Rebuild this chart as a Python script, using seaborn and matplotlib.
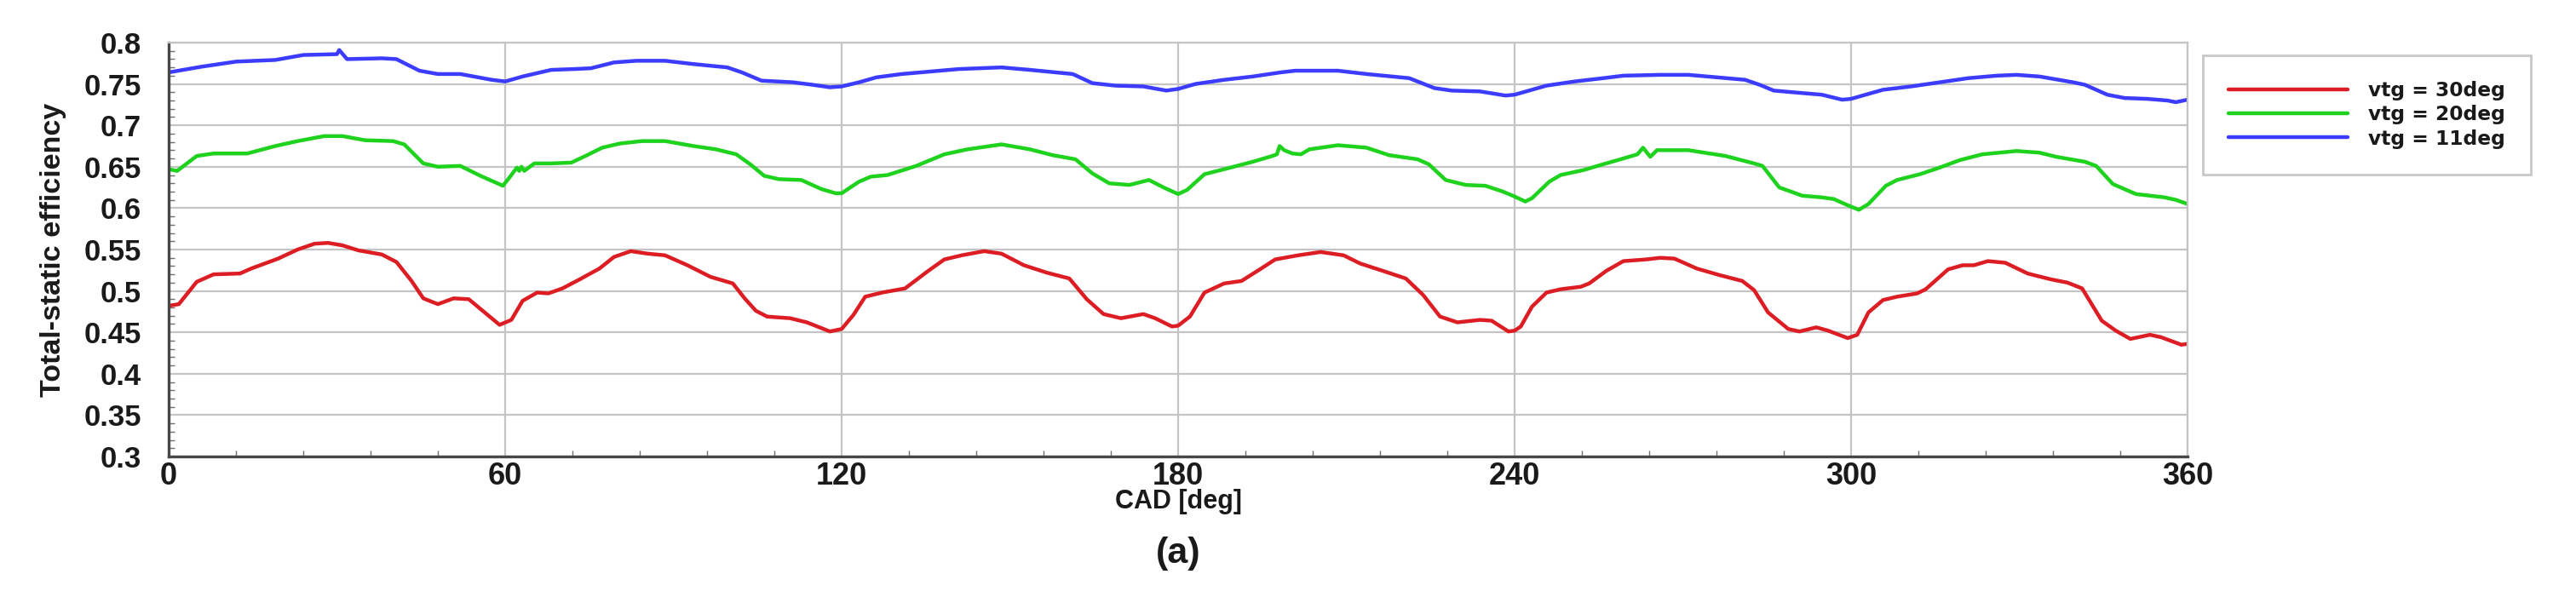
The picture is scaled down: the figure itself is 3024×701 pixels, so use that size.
import matplotlib
matplotlib.use("Agg")
import matplotlib.pyplot as plt
from matplotlib.ticker import MultipleLocator, FuncFormatter
import pandas as pd
import seaborn as sns

# CAD [deg] / total-static efficiency
cad_30 = [0, 1.8, 5, 8, 12.7, 14.7, 19.5, 23, 26, 28.4, 31, 33.8, 38, 40.6, 43.3,
          45.4, 48, 50.8, 53.5, 59, 61.1, 63.1, 65.7, 67.7, 70.2, 73.3, 76.8, 79.4,
          82.4, 85.4, 88.5, 92.5, 96.6, 100.6, 102.7, 104.7, 106.7, 110.8, 113.8,
          117.9, 120, 122.1, 124.2, 127.2, 131.3, 135.4, 138.3, 141.4, 145.4, 148.5,
          152.5, 156.6, 160.6, 163.7, 166.7, 169.8, 173.8, 175.9, 178.9, 180, 182.1,
          184.7, 188.2, 191.3, 194.8, 197.3, 201.4, 205.4, 209.5, 212.5, 216.6,
          220.6, 223.7, 226.7, 229.8, 233.8, 235.9, 238.9, 240, 241.1, 243.1, 245.7,
          248.2, 251.8, 253.3, 256.3, 259.4, 263.4, 266, 268.5, 272.5, 276.6, 280.6,
          282.7, 285.2, 288.8, 290.8, 293.8, 295.9, 299.4, 301.1, 303.1, 305.7,
          308.2, 311.8, 313.3, 317.3, 319.9, 321.9, 324.4, 327.5, 331.5, 335.6,
          338.6, 341.2, 344.7, 347.2, 349.8, 353.3, 355.3, 358.9, 360]
eff_30 = [0.482, 0.484, 0.511, 0.520, 0.521, 0.527, 0.539, 0.550, 0.557, 0.558,
          0.555, 0.549, 0.544, 0.535, 0.512, 0.491, 0.484, 0.491, 0.490, 0.459,
          0.465, 0.488, 0.498, 0.497, 0.503, 0.514, 0.527, 0.541, 0.548, 0.545,
          0.543, 0.531, 0.517, 0.509, 0.491, 0.476, 0.469, 0.467, 0.462, 0.451,
          0.454, 0.471, 0.493, 0.498, 0.503, 0.524, 0.538, 0.543, 0.548, 0.545,
          0.531, 0.522, 0.515, 0.490, 0.472, 0.467, 0.472, 0.467, 0.457, 0.458,
          0.469, 0.498, 0.509, 0.512, 0.527, 0.538, 0.543, 0.547, 0.543, 0.533,
          0.524, 0.515, 0.495, 0.469, 0.462, 0.465, 0.464, 0.451, 0.452, 0.457,
          0.481, 0.498, 0.502, 0.505, 0.509, 0.524, 0.536, 0.538, 0.540, 0.539,
          0.527, 0.519, 0.512, 0.501, 0.474, 0.454, 0.451, 0.456, 0.452, 0.443,
          0.447, 0.474, 0.489, 0.493, 0.497, 0.502, 0.526, 0.531, 0.531, 0.536,
          0.534, 0.521, 0.514, 0.510, 0.503, 0.464, 0.452, 0.442, 0.447, 0.444,
          0.435, 0.436]

cad_20 = [0, 1.5, 5, 8, 14, 19, 23, 27.7, 31, 35, 40, 42, 45.4, 48, 52, 55.6, 59.6,
          61.1, 62.1, 62.5, 62.9, 63.4, 65.2, 68.2, 71.8, 74.3, 77.3, 80.4, 84.4,
          88.5, 93.6, 97.6, 101.2, 103.7, 106.2, 108.8, 112.8, 116.4, 118.9, 120,
          123.1, 125.2, 128.2, 133.3, 138.3, 142.4, 148.5, 153.6, 157.6, 161.7,
          164.7, 167.7, 171.3, 174.8, 177.4, 180, 181.6, 184.7, 188.2, 193.3, 196.8,
          197.6, 198.1, 198.9, 200.4, 201.9, 203.4, 208.5, 213.6, 217.6, 222.7,
          224.7, 227.7, 231.3, 234.8, 237.9, 240, 241.9, 243.1, 246.2, 248.2, 252.3,
          255.8, 259.4, 261.9, 262.9, 264.2, 265.4, 271, 277.6, 282.7, 284.2, 287.2,
          291.3, 294.8, 296.9, 299.9, 301.4, 303.1, 306.2, 308.2, 312.3, 315.8,
          319.4, 323.4, 329.5, 333.6, 336.6, 341.7, 343.7, 346.7, 350.8, 355.9,
          357.9, 360]
eff_20 = [0.647, 0.645, 0.663, 0.666, 0.666, 0.675, 0.681, 0.687, 0.687, 0.682,
          0.681, 0.677, 0.654, 0.650, 0.651, 0.639, 0.627, 0.640, 0.649, 0.645,
          0.650, 0.645, 0.654, 0.654, 0.655, 0.663, 0.673, 0.678, 0.681, 0.681,
          0.675, 0.671, 0.665, 0.653, 0.639, 0.635, 0.634, 0.623, 0.618, 0.618,
          0.632, 0.638, 0.640, 0.651, 0.665, 0.671, 0.677, 0.671, 0.664, 0.659,
          0.642, 0.630, 0.628, 0.634, 0.625, 0.617, 0.622, 0.641, 0.647, 0.656,
          0.663, 0.665, 0.675, 0.670, 0.666, 0.665, 0.671, 0.676, 0.673, 0.664,
          0.659, 0.653, 0.634, 0.628, 0.627, 0.620, 0.614, 0.608, 0.612, 0.632,
          0.640, 0.646, 0.653, 0.660, 0.665, 0.673, 0.662, 0.670, 0.670, 0.663,
          0.654, 0.651, 0.625, 0.615, 0.613, 0.611, 0.602, 0.598, 0.605, 0.627,
          0.634, 0.641, 0.649, 0.658, 0.665, 0.669, 0.667, 0.662, 0.656, 0.651,
          0.629, 0.617, 0.613, 0.610, 0.605]

cad_11 = [0, 6, 12, 19, 24, 30, 30.4, 31.8, 38, 40.6, 44.7, 48, 52, 57.6, 60, 63.1,
          68.2, 72.3, 75.3, 79.4, 83.4, 88.5, 93.6, 99.6, 102.2, 105.7, 111.3,
          114.8, 117.9, 120, 123.1, 126.2, 130.7, 135.8, 140.9, 148.5, 153.6, 161.2,
          164.7, 168.8, 173.8, 177.9, 180, 183.1, 188.2, 193.3, 198.3, 200.9, 208.5,
          213.6, 221.2, 225.7, 228.8, 233.8, 238.4, 240, 243.1, 245.7, 250.7, 255.8,
          259.4, 265.9, 271, 276.1, 281.1, 283.7, 286.2, 291.3, 294.8, 298.4, 300,
          303.1, 305.7, 310.7, 315.8, 320.9, 326, 329.5, 333.6, 339.6, 341.7, 345.7,
          348.8, 352.8, 356.4, 357.9, 360]
eff_11 = [0.764, 0.771, 0.777, 0.779, 0.785, 0.786, 0.791, 0.780, 0.781, 0.780,
          0.766, 0.762, 0.762, 0.755, 0.753, 0.759, 0.767, 0.768, 0.769, 0.776,
          0.778, 0.778, 0.774, 0.770, 0.764, 0.754, 0.752, 0.749, 0.746, 0.747,
          0.752, 0.758, 0.762, 0.765, 0.768, 0.770, 0.767, 0.762, 0.751, 0.748,
          0.747, 0.742, 0.744, 0.750, 0.755, 0.759, 0.764, 0.766, 0.766, 0.762,
          0.757, 0.745, 0.742, 0.741, 0.736, 0.737, 0.743, 0.748, 0.753, 0.757,
          0.760, 0.761, 0.761, 0.758, 0.755, 0.749, 0.742, 0.739, 0.737, 0.731,
          0.732, 0.738, 0.743, 0.747, 0.752, 0.757, 0.760, 0.761, 0.759, 0.752,
          0.749, 0.737, 0.733, 0.732, 0.730, 0.728, 0.731]

case_labels = ["vtg = 30deg", "vtg = 20deg", "vtg = 11deg"]
case_colors = ["#dc1e24", "#1ed21e", "#3c3cff"]

frames = []
for cad, eff, lab in zip([cad_30, cad_20, cad_11], [eff_30, eff_20, eff_11], case_labels):
    frames.append(pd.DataFrame({"CAD": cad, "eff": eff, "case": lab}))
df = pd.concat(frames, ignore_index=True)

sns.set_theme(style="white")
# Arial-like face for axis texts, the wider DejaVu face for the legend
plt.rcParams["font.family"] = ["Liberation Sans", "DejaVu Sans"]
wide = ["DejaVu Sans"]
txt = "#1a1a1a"

fig = plt.figure(figsize=(30.24, 7.01), dpi=100)
ax = fig.add_axes([0.0655, 0.2354, 0.7837, 0.6933])

sns.lineplot(data=df, x="CAD", y="eff", hue="case", hue_order=case_labels,
             palette=case_colors, linewidth=3.2, estimator=None, sort=False, ax=ax)

ax.set_xlim(0, 360)
ax.set_ylim(0.3, 0.8)
ax.xaxis.set_major_locator(MultipleLocator(60))
ax.xaxis.set_minor_locator(MultipleLocator(12))
ax.yaxis.set_major_locator(MultipleLocator(0.05))
ax.yaxis.set_minor_locator(MultipleLocator(0.01))
ax.yaxis.set_major_formatter(FuncFormatter(lambda v, p: f"{round(v, 2):g}"))

ax.grid(True, which="major", color="#c4c4c4", linewidth=1.6)
for side in ["left", "bottom"]:
    ax.spines[side].set_color("#474747")
    ax.spines[side].set_linewidth(2.4)
for side in ["top", "right"]:
    ax.spines[side].set_color("#c4c4c4")
    ax.spines[side].set_linewidth(1.6)

ax.tick_params(which="major", direction="in", length=9, width=1.8, color="#474747",
               top=False, right=False)
ax.tick_params(which="minor", direction="in", length=5, width=1.0, color="#707070",
               top=False, right=False, bottom=True, left=True)
ax.tick_params(axis="y", which="major", pad=23)
ax.tick_params(axis="x", which="major", pad=4)

for t in ax.get_yticklabels():
    t.set_fontsize(25)
    t.set_fontweight("bold")
    t.set_color(txt)
for t in ax.get_xticklabels():
    t.set_fontsize(26)
    t.set_fontweight("bold")
    t.set_color(txt)

ax.set_xlabel("CAD [deg]", fontsize=22, fontweight="bold", color=txt)
ax.xaxis.set_label_coords(0.5, -0.078)
ax.set_ylabel("Total-static efficiency", fontsize=24.5, fontweight="bold", color=txt)
ax.yaxis.set_label_coords(-0.0506, 0.5)

handles, _ = ax.get_legend_handles_labels()
ax.get_legend().remove()
leg = ax.legend(handles, case_labels, loc="upper left", bbox_to_anchor=(0.8552, 0.9073),
                bbox_transform=fig.transFigure, borderaxespad=0,
                prop={"size": 16.8, "weight": "bold", "family": wide},
                handlelength=6.0, handletextpad=1.0, borderpad=1.3, labelspacing=0.22,
                frameon=True, fancybox=False, edgecolor="#c8c8c8", framealpha=1)
leg.get_frame().set_linewidth(2)
for line in leg.get_lines():
    line.set_linewidth(3.2)
for t in leg.get_texts():
    t.set_color(txt)

fig.text(0.4573, 0.0728, "(a)", fontsize=31, fontweight="bold",
         ha="center", va="center", color=txt)

fig.savefig("out.png", dpi=100)
